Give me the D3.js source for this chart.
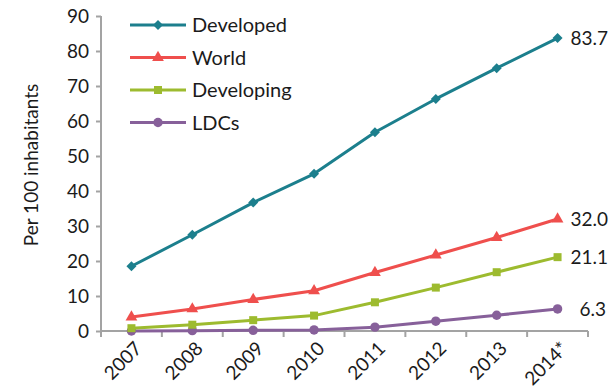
<!DOCTYPE html>
<html>
<head>
<meta charset="utf-8">
<script src="https://cdn.jsdelivr.net/npm/d3@7/dist/d3.min.js"></script>
<style>
  html, body { margin: 0; padding: 0; background: #fff; }
  svg text { font-family: Lato, "Open Sans", sans-serif; fill: #1b1b1b; }
</style>
</head>
<body>
<svg id="chart" width="613" height="390"></svg>
<script>
// Mobile-broadband subscriptions per 100 inhabitants
const years = ["2007", "2008", "2009", "2010", "2011", "2012", "2013", "2014*"];
const developed  = [18.5, 27.5, 36.7, 44.9, 56.8, 66.3, 75.1, 83.7];
const world      = [4.0, 6.3, 9.0, 11.5, 16.7, 21.7, 26.7, 32.0];
const developing = [0.8, 1.8, 3.1, 4.4, 8.2, 12.4, 16.8, 21.1];
const ldcs       = [0.0, 0.1, 0.2, 0.3, 1.1, 2.8, 4.5, 6.3];
const yTicks = [0, 10, 20, 30, 40, 50, 60, 70, 80, 90];
const seriesNames = ["Developed", "World", "Developing", "LDCs"];

// diamond markers are squares turned 45 degrees
const series = [
  { name: seriesNames[0], values: developed,  color: "#1c7f8d", symbol: d3.symbolSquare,   size: 50, rot: 45 },
  { name: seriesNames[1], values: world,      color: "#ef4f4d", symbol: d3.symbolTriangle, size: 60, rot: 0 },
  { name: seriesNames[2], values: developing, color: "#9dbb2f", symbol: d3.symbolSquare,   size: 64, rot: 0 },
  { name: seriesNames[3], values: ldcs,       color: "#87609a", symbol: d3.symbolCircle,   size: 70, rot: 0 }
];

const svg = d3.select("#chart");
const axisColor = "#a3a3a3";

const x = d3.scaleBand().domain(years).range([101, 588]);
const y = d3.scaleLinear().domain([0, 90]).range([331, 16]);

// y axis
const yAxis = svg.append("g").attr("transform", "translate(101,0)")
  .call(d3.axisLeft(y).tickValues(yTicks).tickSize(5).tickPadding(7));
yAxis.select(".domain").attr("stroke", axisColor).attr("stroke-width", 2)
  .attr("d", `M0,${y(90)}V${y(0)}`);
yAxis.selectAll(".tick line").attr("stroke", axisColor).attr("stroke-width", 2);
yAxis.selectAll(".tick text").style("font-size", "19px").attr("fill", "#1b1b1b")
  .attr("font-family", "Lato, sans-serif");

// x axis: tick marks at category boundaries
const xg = svg.append("g");
xg.append("line")
  .attr("x1", x.range()[0]).attr("x2", x.range()[1])
  .attr("y1", y(0)).attr("y2", y(0))
  .attr("stroke", axisColor).attr("stroke-width", 2);
const bounds = years.map(d => x(d)).concat([x.range()[1]]);
xg.selectAll("line.tk").data(bounds).enter().append("line")
  .attr("class", "tk")
  .attr("x1", d => d).attr("x2", d => d)
  .attr("y1", y(0)).attr("y2", y(0) + 6)
  .attr("stroke", axisColor).attr("stroke-width", 2);
xg.selectAll("text").data(years).enter().append("text")
  .attr("transform", d => `translate(${x(d) + x.bandwidth() / 2 + 7},${y(0) + 14}) rotate(-45)`)
  .attr("text-anchor", "end")
  .attr("dy", "0.35em")
  .style("font-size", "19px")
  .text(d => d);

// y axis title
svg.append("text")
  .attr("transform", `translate(31,${165}) rotate(-90)`)
  .attr("text-anchor", "middle")
  .attr("dy", "0.35em")
  .style("font-size", "19px")
  .text("Per 100 inhabitants");

const cx = d => x(d) + x.bandwidth() / 2;
const line = d3.line().x((d, i) => cx(years[i])).y(d => y(d));

// lines and markers, drawn bottom series first
series.slice().reverse().forEach(s => {
  const g = svg.append("g");
  g.append("path").datum(s.values)
    .attr("d", line).attr("fill", "none")
    .attr("stroke", s.color).attr("stroke-width", 3)
    .attr("stroke-linejoin", "round");
  g.selectAll("path.m").data(s.values).enter().append("path")
    .attr("class", "m")
    .attr("d", d3.symbol().type(s.symbol).size(s.size))
    .attr("transform", (d, i) => `translate(${cx(years[i])},${y(d)}) rotate(${s.rot})`)
    .attr("fill", s.color);
});

// end-of-line value labels
series.forEach((s, k) => {
  const last = s.values[s.values.length - 1];
  svg.append("text")
    .attr("x", cx(years[years.length - 1]) + (k === 3 ? 22 : 13))
    .attr("y", y(last))
    .attr("dy", "0.35em")
    .style("font-size", "19px")
    .text(last.toFixed(1));
});

// legend
const legend = svg.append("g");
series.forEach((s, i) => {
  const ly = 25 + i * 32.5;
  const row = legend.append("g").attr("transform", `translate(0,${ly})`);
  row.append("line").attr("x1", 130).attr("x2", 186).attr("y1", 0).attr("y2", 0)
    .attr("stroke", s.color).attr("stroke-width", 3);
  row.append("path").attr("d", d3.symbol().type(s.symbol).size(s.size))
    .attr("transform", `translate(158,0) rotate(${s.rot})`).attr("fill", s.color);
  row.append("text").attr("x", 192).attr("y", 0).attr("dy", "0.35em")
    .style("font-size", "20px").text(s.name);
});
</script>
</body>
</html>
